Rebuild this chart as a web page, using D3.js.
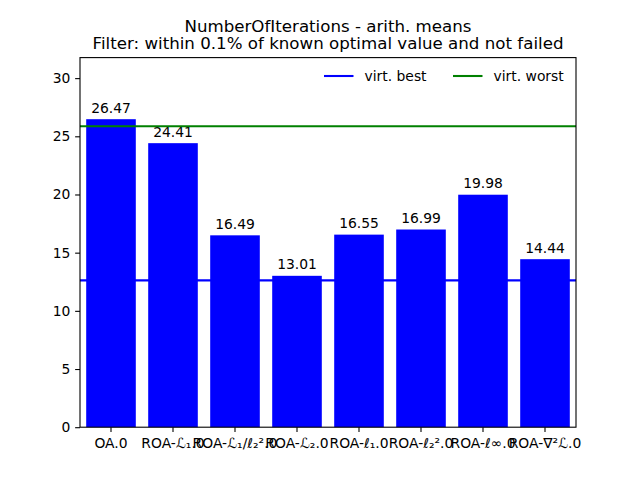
<!DOCTYPE html>
<html>
<head>
<meta charset="utf-8">
<script src="https://cdn.jsdelivr.net/npm/d3@7"></script>
<style>
  body { margin: 0; background: #fff; }
  svg { display: block; font-family: "DejaVu Sans", sans-serif; }
</style>
</head>
<body>
<svg id="chart" width="640" height="480"></svg>
<script>
const categories = ["OA.0", "ROA-ℒ₁.0", "ROA-ℒ₁/ℓ₂².0", "ROA-ℒ₂.0", "ROA-ℓ₁.0", "ROA-ℓ₂².0", "ROA-ℓ∞.0", "ROA-∇²ℒ.0"];
const values = [26.47, 24.41, 16.49, 13.01, 16.55, 16.99, 19.98, 14.44];
const valueLabels = ["26.47", "24.41", "16.49", "13.01", "16.55", "16.99", "19.98", "14.44"];
const virtBest = 12.62;
const virtWorst = 25.86;
const yTicks = [0, 5, 10, 15, 20, 25, 30];
const titleLines = ["NumberOfIterations - arith. means", "Filter: within 0.1% of known optimal value and not failed"];
const legendItems = [
  { label: "virt. best", color: "#0000ff" },
  { label: "virt. worst", color: "#008000" }
];

const svg = d3.select("#chart");
const W = 640, H = 480;
const margin = { left: 80, right: 64, top: 57.6, bottom: 52.8 };
const iw = W - margin.left - margin.right;
const ih = H - margin.top - margin.bottom;
const fs = 13.89;

const x = d3.scaleBand().domain(categories).range([margin.left, margin.left + iw])
  .paddingInner(0.2).paddingOuter(0.1);
const y = d3.scaleLinear().domain([0, d3.max(values) * 1.2]).range([margin.top + ih, margin.top]);

svg.append("rect").attr("width", W).attr("height", H).attr("fill", "#fff");

// bars
svg.append("g").selectAll("rect").data(values).join("rect")
  .attr("x", (d, i) => x(categories[i]))
  .attr("width", x.bandwidth())
  .attr("y", d => y(d))
  .attr("height", d => y(0) - y(d))
  .attr("fill", "#0000ff");

// bar labels
svg.append("g").selectAll("text").data(values).join("text")
  .attr("x", (d, i) => x(categories[i]) + x.bandwidth() / 2)
  .attr("y", d => y(d) - 6.5)
  .attr("text-anchor", "middle")
  .attr("font-size", fs)
  .attr("fill", "#000")
  .text((d, i) => valueLabels[i]);

// hlines
const x0 = margin.left, x1 = margin.left + iw;
svg.append("line").attr("x1", x0).attr("x2", x1).attr("y1", y(virtBest)).attr("y2", y(virtBest))
  .attr("stroke", legendItems[0].color).attr("stroke-width", 2.08);
svg.append("line").attr("x1", x0).attr("x2", x1).attr("y1", y(virtWorst)).attr("y2", y(virtWorst))
  .attr("stroke", legendItems[1].color).attr("stroke-width", 2.08);

// axes
const yAxis = d3.axisLeft(y).tickValues(yTicks).tickSize(4.86).tickPadding(4.86).tickFormat(d3.format("d"));
const gy = svg.append("g").attr("transform", `translate(${margin.left},0)`).call(yAxis);
gy.select(".domain").remove();
gy.selectAll("text").attr("font-size", fs).attr("font-family", "DejaVu Sans").attr("fill", "#000");
gy.selectAll("line").attr("stroke", "#000").attr("stroke-width", 1.1);

const xAxis = d3.axisBottom(x).tickSize(4.86).tickPadding(4.86);
const gx = svg.append("g").attr("transform", `translate(0,${margin.top + ih})`).call(xAxis);
gx.select(".domain").remove();
gx.selectAll("text").attr("font-size", fs).attr("font-family", "DejaVu Sans").attr("fill", "#000").attr("dy", "0.8em");
gx.selectAll("line").attr("stroke", "#000").attr("stroke-width", 1.1);

// frame
svg.append("rect").attr("x", margin.left).attr("y", margin.top).attr("width", iw).attr("height", ih)
  .attr("fill", "none").attr("stroke", "#000").attr("stroke-width", 1.1);

// title
const cx = margin.left + iw / 2;
svg.append("text").attr("x", cx).attr("y", 31.7).attr("text-anchor", "middle").attr("font-size", 16.67).attr("fill", "#000").text(titleLines[0]);
svg.append("text").attr("x", cx).attr("y", 48.7).attr("text-anchor", "middle").attr("font-size", 16.67).attr("fill", "#000").text(titleLines[1]);

// legend
const legX = [324, 453];
const legY = 76;
const lg = svg.append("g");
legendItems.forEach((it, i) => {
  lg.append("line").attr("x1", legX[i]).attr("x2", legX[i] + 29.5).attr("y1", legY).attr("y2", legY)
    .attr("stroke", it.color).attr("stroke-width", 2.08);
  lg.append("text").attr("x", legX[i] + 40.5).attr("y", legY + 4.8).attr("font-size", fs).attr("fill", "#000").text(it.label);
});
</script>
</body>
</html>
